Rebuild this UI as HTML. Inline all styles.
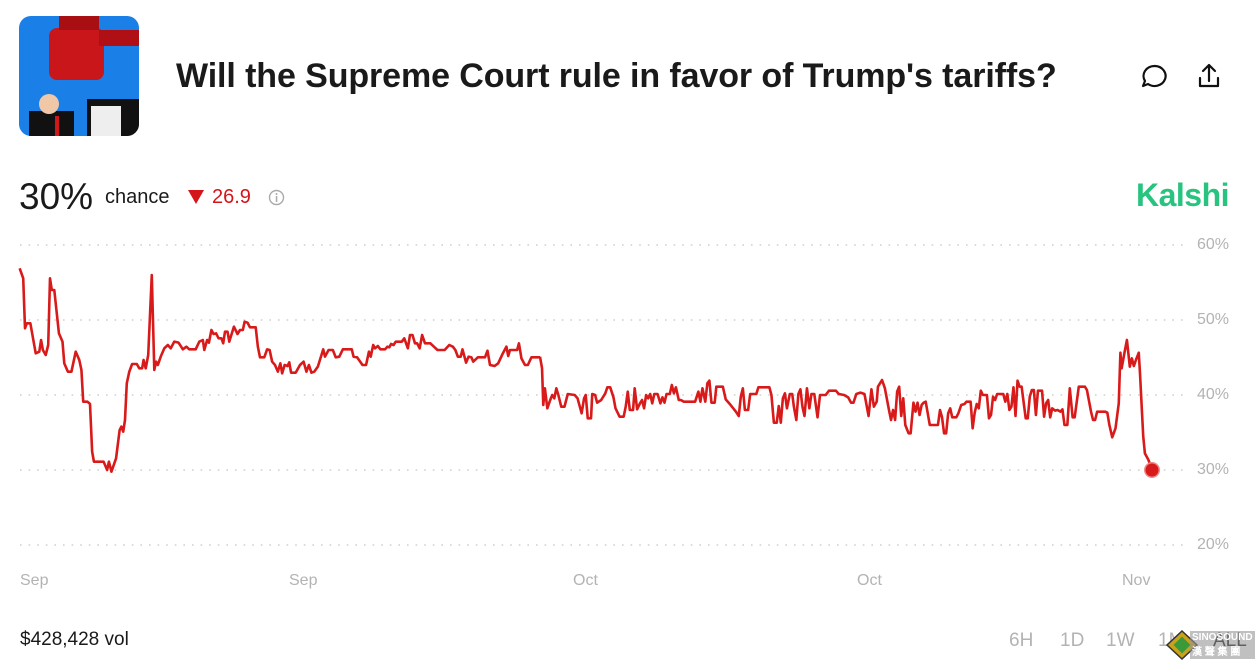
<!DOCTYPE html>
<html><head><meta charset="utf-8"><style>
body{margin:0;width:1260px;height:663px;background:#fff;font-family:"Liberation Sans",sans-serif;position:relative;overflow:hidden;color:#111}
.a{position:absolute;white-space:nowrap}
.yl{position:absolute;left:1197px;color:#b3b3b3;font-size:16px}
.xl{position:absolute;top:572px;color:#b3b3b3;font-size:16px}
.tb{position:absolute;top:630px;color:#b3b3b3;font-size:19px}
</style></head><body>
<svg class="a" style="left:19px;top:16px" width="120" height="120" viewBox="0 0 120 120">
<defs><clipPath id="c"><rect width="120" height="120" rx="12"/></clipPath></defs>
<g clip-path="url(#c)">
<rect width="120" height="120" fill="#1a7fe6"/>
<rect x="30" y="12" width="55" height="52" rx="8" fill="#c8161a"/>
<rect x="80" y="14" width="40" height="16" fill="#b01015"/>
<rect x="40" y="0" width="40" height="14" fill="#a80f12"/>
<rect x="68" y="83" width="56" height="45" fill="#111"/>
<rect x="72" y="90" width="30" height="35" fill="#eee"/>
<rect x="10" y="95" width="45" height="30" fill="#111"/>
<circle cx="30" cy="88" r="10" fill="#f0c8a8"/>
<rect x="36" y="100" width="4" height="20" fill="#d01818"/>
</g></svg>
<div class="a" style="left:176px;top:57px;font-size:34px;font-weight:bold;color:#1a1a1a;letter-spacing:-0.1px">Will the Supreme Court rule in favor of Trump's tariffs?</div>
<svg class="a" style="left:1140px;top:62px" width="90" height="30">
<path d="M15 4 a11 10 0 1 1 -7 18 l-5 2 l2 -5 a11 10 0 0 1 10 -15z" fill="none" stroke="#111" stroke-width="2.2" stroke-linejoin="round"/>
<path d="M69 3 v16 M63 9 l6 -6 l6 6 M60 16 v8 h18 v-8" fill="none" stroke="#111" stroke-width="2.2" stroke-linejoin="round" stroke-linecap="round"/>
</svg>
<div class="a" style="left:19px;top:176px;font-size:37px;color:#1a1a1a">30%</div>
<div class="a" style="left:105px;top:186px;font-size:20px;color:#1a1a1a">chance</div>
<svg class="a" style="left:187px;top:189px" width="18" height="16"><path d="M1 1 h16 l-8 14z" fill="#d4151a"/></svg>
<div class="a" style="left:212px;top:186px;font-size:20px;color:#d4151a">26.9</div>
<svg class="a" style="left:268px;top:189px" width="17" height="17"><circle cx="8.5" cy="8.5" r="7" fill="none" stroke="#aaa" stroke-width="1.4"/><rect x="7.8" y="7" width="1.5" height="6" fill="#aaa"/><circle cx="8.5" cy="5" r="1" fill="#aaa"/></svg>
<div class="a" style="left:1136px;top:177px;font-size:32px;font-weight:bold;color:#28c47f;letter-spacing:-0.5px">Kalshi</div>
<svg class="a" style="left:0;top:0" width="1260" height="663">
<g stroke="#cfcfcf" stroke-width="1.6" stroke-dasharray="1.6 7">
<line x1="20" y1="245" x2="1188" y2="245"/><line x1="20" y1="320" x2="1188" y2="320"/><line x1="20" y1="395" x2="1188" y2="395"/><line x1="20" y1="470" x2="1188" y2="470"/><line x1="20" y1="545" x2="1188" y2="545"/>
</g>
<g transform="translate(0,240) scale(0.35714,0.33333)">
<polyline vector-effect="non-scaling-stroke" fill="none" stroke="#d91a1a" stroke-width="2.6" stroke-linejoin="round" points="55,85 65,115 70,265 75,250 85,250 100,340 110,335 115,300 120,330 128,345 135,315 140,115 145,150 152,150 165,280 175,305 180,370 190,395 200,395 212,335 222,360 228,390 233,485 245,485 252,492 258,635 263,665 290,665 300,690 305,665 312,695 325,655 335,570 340,560 345,575 350,540 355,430 362,395 370,372 383,372 390,385 398,385 402,360 408,385 415,345 425,105 432,390 437,365 442,375 450,350 460,325 470,315 478,325 488,305 500,308 512,328 522,320 530,328 548,328 558,305 568,300 572,330 580,300 585,308 592,270 598,282 605,280 612,295 620,295 625,310 630,275 637,275 642,305 655,260 665,282 672,270 680,270 685,245 693,248 700,262 716,262 722,320 728,352 740,352 748,328 755,330 762,365 770,375 778,395 785,370 790,400 797,375 805,378 810,367 815,398 828,398 840,375 850,365 858,395 865,375 872,398 880,395 890,380 905,328 910,350 920,330 932,330 940,352 950,350 960,328 985,328 990,350 1000,352 1015,375 1025,375 1033,335 1038,350 1045,315 1050,325 1058,318 1065,328 1078,328 1085,320 1090,322 1095,312 1102,315 1108,305 1125,305 1132,295 1142,325 1148,285 1155,285 1162,310 1168,310 1175,325 1182,285 1190,310 1205,310 1215,320 1225,330 1245,330 1258,315 1268,320 1275,330 1282,350 1290,350 1295,328 1305,368 1312,350 1320,352 1325,365 1338,352 1358,352 1365,332 1372,375 1385,378 1395,370 1408,340 1418,320 1423,348 1428,330 1448,330 1453,310 1460,355 1470,375 1478,375 1488,352 1512,352"/>
</g>
<g transform="translate(540,340) scale(0.40816,0.33333)">
<polyline vector-effect="non-scaling-stroke" fill="none" stroke="#d91a1a" stroke-width="2.6" stroke-linejoin="round" points="0,50 5,85 8,195 12,145 18,205 25,180 30,165 35,175 40,145 45,165 52,200 60,200 68,162 85,165 92,175 102,220 108,175 112,165 117,235 125,235 128,162 135,165 140,188 150,180 160,160 165,142 172,142 180,172 185,205 195,230 205,230 210,200 215,155 220,210 228,210 232,145 238,208 245,190 250,180 255,205 260,165 265,175 270,162 275,190 280,162 288,162 295,190 300,172 305,188 310,162 318,162 323,135 328,160 333,142 340,180 345,180 352,185 380,185 388,155 393,185 398,145 405,185 410,130 415,122 420,188 428,188 432,140 448,140 455,178 465,192 480,215 487,228 492,170 497,145 502,210 510,210 515,162 530,162 535,142 562,142 567,165 573,248 580,248 585,198 590,248 595,175 600,160 605,205 612,162 618,162 622,200 628,240 633,162 638,148 643,200 648,228 654,145 660,205 665,162 672,162 680,232 686,165 700,165 708,152 725,152 732,162 745,165 755,172 762,188 768,188 775,162 785,158 795,162 805,228 812,148 818,200 825,185 828,140 838,120 845,145 855,210 860,240 865,210 870,240 875,155 880,140 885,228 890,175 895,255 903,280 908,280 915,188 920,215 925,188 930,225 935,195 940,188 945,185 955,255 975,255 980,210 985,232 990,280 995,280 1000,220 1005,205 1010,232 1020,232 1025,220 1032,195 1040,192 1045,185 1055,185 1060,265 1065,218 1070,192 1075,205 1080,152 1085,165 1095,165 1100,235 1105,225 1110,170 1115,180 1120,162 1135,162 1140,185 1145,162 1150,210 1155,200 1160,142 1165,228 1170,122 1175,140 1180,140 1190,235 1195,235 1200,170 1205,150 1210,150 1215,225 1220,152 1230,152 1235,230 1240,190 1245,180 1250,232 1255,205 1262,212 1268,210 1275,215 1280,208 1285,255 1292,255 1298,145 1305,232 1310,232 1320,140 1335,140 1340,150 1350,215 1355,240 1360,240 1365,215 1385,215 1390,218 1395,255 1402,292 1410,265 1418,190 1422,38 1425,85 1432,38 1438,0 1445,80 1450,55 1455,78 1460,60 1467,38 1470,100 1475,220 1478,290 1482,340 1490,358 1500,388"/>
</g>
<circle cx="1152" cy="470" r="8" fill="#e88"/>
<circle cx="1152" cy="470" r="6.5" fill="#d91a1a"/>
</svg>
<div class="yl" style="top:236px">60%</div>
<div class="yl" style="top:311px">50%</div>
<div class="yl" style="top:386px">40%</div>
<div class="yl" style="top:461px">30%</div>
<div class="yl" style="top:536px">20%</div>
<div class="xl" style="left:20px">Sep</div>
<div class="xl" style="left:289px">Sep</div>
<div class="xl" style="left:573px">Oct</div>
<div class="xl" style="left:857px">Oct</div>
<div class="xl" style="left:1122px">Nov</div>
<div class="a" style="left:20px;top:629px;font-size:19px;color:#1a1a1a">$428,428 vol</div>
<div class="tb" style="left:1009px">6H</div>
<div class="tb" style="left:1060px">1D</div>
<div class="tb" style="left:1106px">1W</div>
<div class="tb" style="left:1158px">1M</div>
<div class="tb" style="left:1213px;color:#111">ALL</div>
<svg class="a" style="left:1164px;top:629px" width="36" height="32"><path d="M18 2 L33 16 L18 30 L3 16z" fill="#c9a21a" stroke="#333" stroke-width="1.5"/><rect x="12" y="10" width="12" height="12" fill="#3a9a3a" transform="rotate(45 18 16)"/></svg>
<div class="a" style="left:1190px;top:631px;font-size:10px;font-weight:bold;color:#fff;background:rgba(150,150,150,.6);padding:1px 2px">SINOSOUND<br>漢 聲 集 團</div>
</body></html>
